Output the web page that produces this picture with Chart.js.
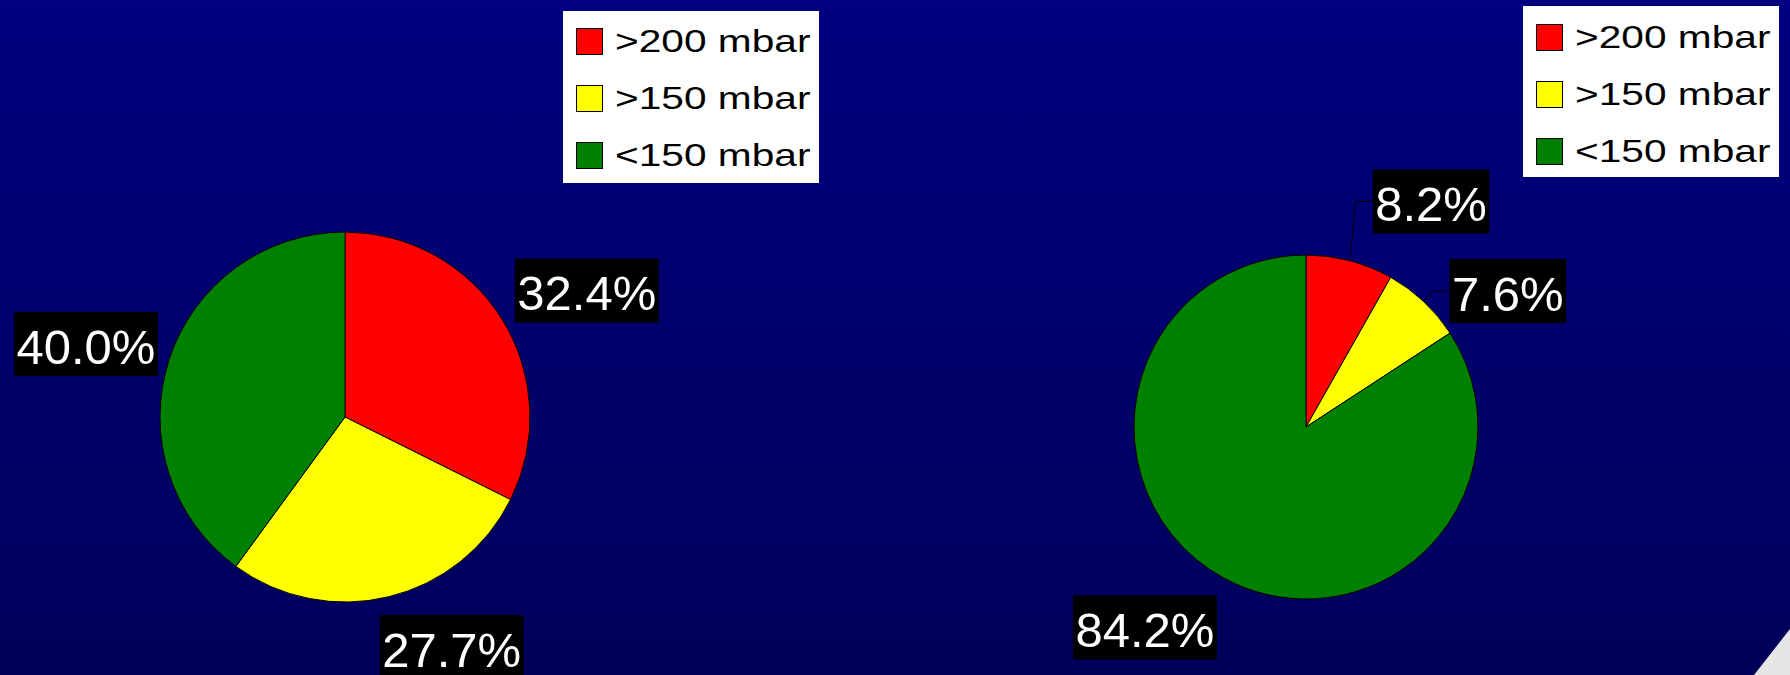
<!DOCTYPE html>
<html>
<head>
<meta charset="utf-8">
<script src="https://cdn.jsdelivr.net/npm/chart.js@4.4.1/dist/chart.umd.min.js"></script>
<style>
html, body { margin: 0; padding: 0; }
body {
    width: 1790px; height: 675px; overflow: hidden; position: relative;
    background: linear-gradient(to bottom, #000080 0%, #00005a 100%);
    font-family: Arial, "Liberation Sans", sans-serif;
}
.pie { position: absolute; }
#leftPie { left: -35px; top: 37px; }
#rightPie { left: 956px; top: 77px; }
.legend { position: absolute; background: #fff; width: 256px; box-sizing: border-box; padding-left: 13px; }
#leftLegend { left: 563px; top: 11px; height: 172px; padding-top: 2px; }
#rightLegend { left: 1523px; top: 6px; height: 171px; padding-top: 3px; }
.legend .row { height: 57px; display: flex; align-items: center; white-space: nowrap; }
.legend .sw { width: 27px; height: 27px; border: 1px solid #000; box-sizing: border-box; margin-right: 12px; flex: none; }
.legend .txt { font-size: 32px; color: #000; display: inline-block; transform: scaleX(1.27); transform-origin: 0 50%; }
.corner {
    position: absolute; left: 1754px; top: 629px; width: 36px; height: 46px;
    background: #e6e6e6; clip-path: polygon(0 100%, 100% 0, 100% 100%);
}
</style>
</head>
<body>
<canvas id="leftPie" class="pie" width="760" height="760"></canvas>
<canvas id="rightPie" class="pie" width="700" height="700"></canvas>
<div id="leftLegend" class="legend"></div>
<div id="rightLegend" class="legend"></div>
<div class="corner"></div>
<script>
const categories = ['>200 mbar', '>150 mbar', '<150 mbar'];
const leftValues = [32.4, 27.7, 40.0];
const rightValues = [8.2, 7.6, 84.2];
const sliceColors = ['#ff0000', '#ffff00', '#008000'];

// black boxes with white percentages, placed outside each slice
const labelPlugin = {
    id: 'pctLabels',
    afterDatasetsDraw(chart, args, opts) {
        const ctx = chart.ctx;
        const meta = chart.getDatasetMeta(0);
        const vals = chart.data.datasets[0].data;
        ctx.save();
        ctx.font = opts.fontSize + 'px Arial, "Liberation Sans", sans-serif';
        meta.data.forEach(function (arc, i) {
            const p = arc.getProps(['x', 'y', 'startAngle', 'endAngle', 'outerRadius'], true);
            const mid = (p.startAngle + p.endAngle) / 2;
            const txt = vals[i].toFixed(1) + '%';
            const w = ctx.measureText(txt).width + 5;
            const h = opts.fontSize * 1.31;
            const cos = Math.cos(mid), sin = Math.sin(mid);
            const nudge = opts.nudge[i] || [0, 0];
            const cx = p.x + (p.outerRadius + opts.gap + w / 2) * cos + nudge[0];
            const cy = p.y + (p.outerRadius + opts.gap + h / 2) * sin + nudge[1];
            const left = cx - w / 2, top = cy - h / 2;
            if (opts.leaders && opts.leaders[i]) {
                ctx.strokeStyle = '#000';
                ctx.lineWidth = 1;
                ctx.beginPath();
                ctx.moveTo(p.x + p.outerRadius * cos, p.y + p.outerRadius * sin);
                ctx.lineTo(left - 17, cy);
                ctx.lineTo(left, cy);
                ctx.stroke();
            }
            ctx.fillStyle = '#000';
            ctx.fillRect(left, top, w, h);
            ctx.fillStyle = '#fff';
            ctx.textAlign = 'center';
            ctx.textBaseline = 'alphabetic';
            ctx.fillText(txt, cx, top + opts.fontSize * 1.06);
        });
        ctx.restore();
    }
};

function makePie(id, values, radius, labelOpts) {
    new Chart(document.getElementById(id), {
        type: 'pie',
        data: {
            labels: categories,
            datasets: [{
                data: values,
                backgroundColor: sliceColors,
                borderColor: '#000',
                borderWidth: 1
            }]
        },
        options: {
            responsive: false,
            animation: false,
            radius: radius,
            layout: { padding: 0 },
            plugins: {
                legend: { display: false },
                tooltip: { enabled: false },
                pctLabels: labelOpts
            }
        },
        plugins: [labelPlugin]
    });
}

function makeLegend(id) {
    const box = document.getElementById(id);
    categories.forEach(function (name, i) {
        const row = document.createElement('div');
        row.className = 'row';
        const sw = document.createElement('span');
        sw.className = 'sw';
        sw.style.background = sliceColors[i];
        const txt = document.createElement('span');
        txt.className = 'txt';
        txt.textContent = name;
        row.appendChild(sw);
        row.appendChild(txt);
        box.appendChild(row);
    });
}

makePie('leftPie', leftValues, 185, {
    fontSize: 49, gap: 25,
    nudge: [[2, 1], [40, -5], [9, 2]]
});
makePie('rightPie', rightValues, 172, {
    fontSize: 49, gap: 25,
    nudge: [[60, -4], [27, 31], [-33, -1]],
    leaders: [true, true, false]
});
makeLegend('leftLegend');
makeLegend('rightLegend');
</script>
</body>
</html>
